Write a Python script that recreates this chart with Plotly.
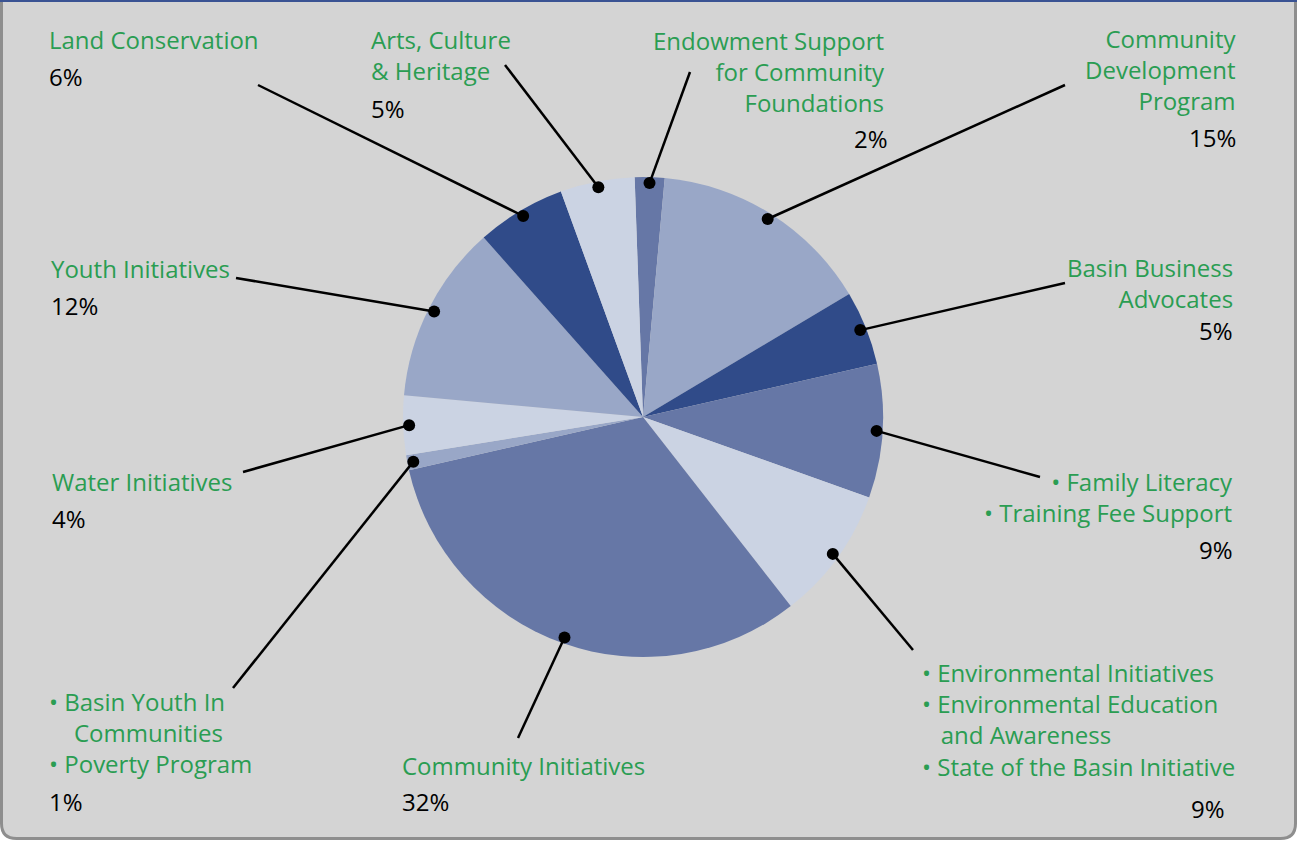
import math
import plotly.graph_objects as go

W, H = 1298, 841

# ---------------- data ----------------
categories = [
    "Endowment Support for Community Foundations",
    "Community Development Program",
    "Basin Business Advocates",
    "Family Literacy / Training Fee Support",
    "Environmental Initiatives / Education / State of the Basin",
    "Community Initiatives",
    "Basin Youth In Communities / Poverty Program",
    "Water Initiatives",
    "Youth Initiatives",
    "Land Conservation",
    "Arts, Culture & Heritage",
]
values = [2, 15, 5, 9, 9, 32, 1, 4, 12, 6, 5]
pct_labels = ["2%", "15%", "5%", "9%", "9%", "32%", "1%", "4%", "12%", "6%", "5%"]
NB = "\u00a0"
label_texts = [
    "Endowment Support<br>for Community<br>Foundations",
    "Community<br>Development<br>Program",
    "Basin Business<br>Advocates",
    "• Family Literacy<br>• Training Fee Support",
    "• Environmental Initiatives<br>• Environmental Education<br>" + NB * 3 + "and Awareness<br>• State of the Basin Initiative",
    "Community Initiatives",
    "• Basin Youth In<br>" + NB * 4 + "Communities<br>• Poverty Program",
    "Water Initiatives",
    "Youth Initiatives",
    "Land Conservation",
    "Arts, Culture<br>& Heritage",
]

DARK, MED, LMED, LIGHT = "#304b89", "#6677a6", "#99a7c7", "#cbd3e3"
slice_colors = [MED, LMED, DARK, MED, LIGHT, MED, LMED, LIGHT, LMED, DARK, LIGHT]

# ---------------- layout config (pixels) ----------------
CX, CY, R = 643, 417, 240
ROT = -2
# label block: (x, y_center, anchor)
label_pos = [
    (887, 71, "right"),
    (1238, 69, "right"),
    (1235, 283, "right"),
    (1235, 497, "right"),
    (920, 719, "left"),
    (400, 765, "left"),
    (47, 732, "left"),
    (50, 481, "left"),
    (49, 268, "left"),
    (47, 39, "left"),
    (369, 55, "left"),
]
pct_pos = [
    (890, 138, "right"),
    (1238, 137, "right"),
    (1235, 330, "right"),
    (1235, 549, "right"),
    (1227, 808, "right"),
    (400, 801, "left"),
    (47, 801, "left"),
    (50, 518, "left"),
    (49, 305, "left"),
    (47, 76, "left"),
    (369, 108, "left"),
]
leader_end = [
    (690, 72), (1065, 85), (1065, 283), (1040, 477), (913, 650),
    (518, 738), (233, 688), (243, 472), (236, 278), (258, 85), (505, 65),
]

GREEN = "#2a9d52"
FONT = "Open Sans"
FS = 24

fig = go.Figure()

# invisible trace to create pixel-based axes
fig.add_trace(go.Scatter(x=[0, W], y=[0, H], mode="markers",
                         marker=dict(opacity=0), hoverinfo="skip", showlegend=False))

fig.add_trace(go.Pie(
    labels=categories, values=values, sort=False, direction="clockwise",
    rotation=ROT, marker=dict(colors=slice_colors, line=dict(width=0)),
    textinfo="none", hoverinfo="label+percent", showlegend=False,
    domain=dict(x=[(CX - R) / W, (CX + R) / W],
                y=[(H - CY - R) / H, (H - CY + R) / H]),
))

shapes = []
# frame
rr = 15
L, Rt, T, B = 1.5, 1295.5, -5, 838.5
frame_path = (f"M{L},{T} L{L},{B-rr} Q{L},{B} {L+rr},{B} L{Rt-rr},{B} "
              f"Q{Rt},{B} {Rt},{B-rr} L{Rt},{T} Z")
shapes.append(dict(type="path", path=frame_path, xref="x", yref="y",
                   fillcolor="#d4d4d4", line=dict(color="#8e8e8e", width=3),
                   layer="below"))
shapes.append(dict(type="line", x0=0, x1=1297, y0=0.8, y1=0.8, xref="x", yref="y",
                   line=dict(color="#3a5393", width=2.5), layer="below"))

# leader lines and dots from slice mid angles
total = sum(values)
cum = 0
for i, v in enumerate(values):
    mid = ROT + 360 * (cum + v / 2) / total
    cum += v
    a = math.radians(mid)
    dx = CX + 0.975 * R * math.sin(a)
    dy = CY - 0.975 * R * math.cos(a)
    ex, ey = leader_end[i]
    shapes.append(dict(type="line", x0=dx, y0=dy, x1=ex, y1=ey, xref="x", yref="y",
                       line=dict(color="black", width=2.5), layer="above"))
    rd = 6
    shapes.append(dict(type="circle", x0=dx - rd, x1=dx + rd, y0=dy - rd, y1=dy + rd,
                       xref="x", yref="y", fillcolor="black",
                       line=dict(color="black", width=0), layer="above"))

annotations = []
for i in range(len(values)):
    x, y, anc = label_pos[i]
    annotations.append(dict(x=x, y=y, xref="x", yref="y", text=label_texts[i],
                            showarrow=False, xanchor=anc, yanchor="middle", align=anc,
                            font=dict(family=FONT, size=FS, color=GREEN)))
    x, y, anc = pct_pos[i]
    annotations.append(dict(x=x, y=y, xref="x", yref="y", text=pct_labels[i],
                            showarrow=False, xanchor=anc, yanchor="middle", align=anc,
                            font=dict(family=FONT, size=FS, color="black")))

fig.update_layout(
    width=W, height=H, margin=dict(l=0, r=0, t=0, b=0),
    paper_bgcolor="white", plot_bgcolor="rgba(0,0,0,0)",
    xaxis=dict(range=[0, W], visible=False, fixedrange=True),
    yaxis=dict(range=[H, 0], visible=False, fixedrange=True),
    shapes=shapes, annotations=annotations, showlegend=False,
)

fig.write_html("out.html")
